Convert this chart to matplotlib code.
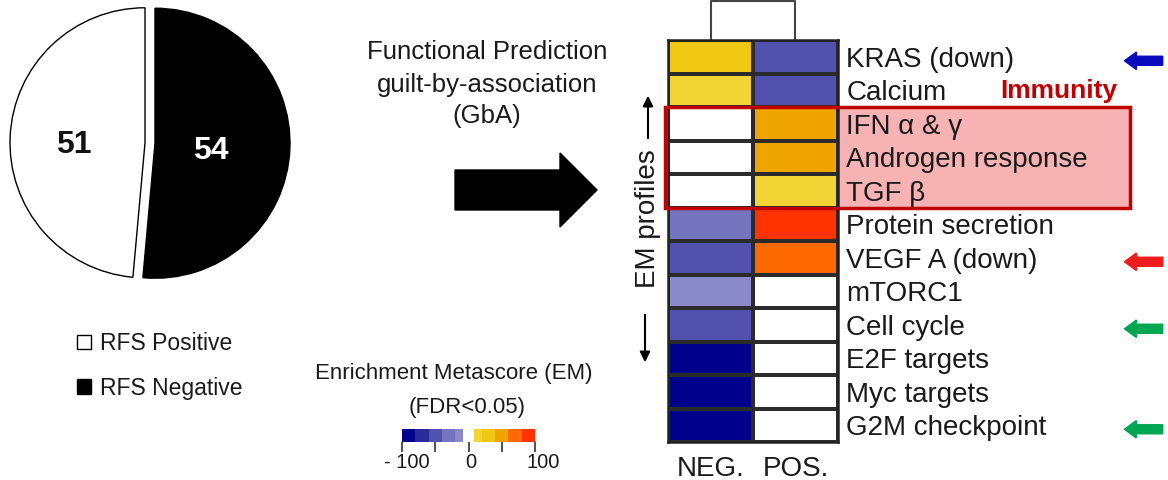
import matplotlib
matplotlib.use("Agg")
import matplotlib.pyplot as plt
import matplotlib.transforms as mtransforms
import numpy as np
from matplotlib.colors import ListedColormap, BoundaryNorm
from matplotlib.cm import ScalarMappable
from matplotlib.patches import Rectangle, FancyArrow

plt.rcParams["font.family"] = ["Liberation Sans", "DejaVu Sans"]
plt.rcParams["text.color"] = "#1a1a1a"
plt.rcParams["xtick.labelcolor"] = "#1a1a1a"
plt.rcParams["ytick.labelcolor"] = "#1a1a1a"

# Pie: recurrence-free survival groups
rfs_groups = ["RFS Positive", "RFS Negative"]
rfs_counts = [51, 54]
rfs_colors = ["white", "black"]

# Heatmap: enrichment metascore per pathway
pathways = ["KRAS (down)", "Calcium", "IFN α & γ", "Androgen response", "TGF β",
            "Protein secretion", "VEGF A (down)", "mTORC1", "Cell cycle",
            "E2F targets", "Myc targets", "G2M checkpoint"]
groups = ["NEG.", "POS."]
em_neg = [30, 15, 0, 0, 0, -30, -50, -15, -45, -95, -95, -95]
em_pos = [-50, -50, 50, 45, 15, 90, 70, 0, 0, 0, 0, 0]
immunity = ["IFN α & γ", "Androgen response", "TGF β"]
marked = {"KRAS (down)": "#0a0abf", "VEGF A (down)": "#ee1c1c",
          "Cell cycle": "#00a651", "G2M checkpoint": "#00a651"}

# Colour scale
em_bounds = [-100, -80, -60, -40, -20, -8, 8, 20, 40, 60, 80, 100]
em_colors = ["#00008a", "#2a2a9a", "#5252ae", "#7474bf", "#8a8acb", "white",
             "#f2d535", "#f0c814", "#f0a400", "#ff6a00", "#ff3300"]
cb_ticks = [-100, -50, 0, 50, 100]
cb_labels = ["- 100", "", "0", "", "100"]

W, H = 1168, 480
fig = plt.figure(figsize=(W / 100, H / 100), dpi=100)


def px_axes(x0, y0, x1, y1, **kw):
    return fig.add_axes([x0 / W, 1 - y1 / H, (x1 - x0) / W, (y1 - y0) / H], **kw)


# ---- pie ----
pie_ax = px_axes(0, -7, 300, 293)
wedges, _, autotexts = pie_ax.pie(
    rfs_counts, colors=rfs_colors, startangle=90, counterclock=True,
    explode=[0.037, 0.037],
    autopct=lambda p: f"{p * sum(rfs_counts) / 100:.0f}", pctdistance=0.47,
    wedgeprops=dict(edgecolor="black", linewidth=1.0),
    textprops=dict(fontsize=23, fontweight="bold"))
autotexts[0].set_color("#111111")
autotexts[1].set_color("white")
for t in autotexts:
    x, y = t.get_position()
    t.set_position((x - 0.06, y - 0.04))
pie_ax.set_xlim(-150 / 135, 150 / 135)
pie_ax.set_ylim(-150 / 135, 150 / 135)
pie_ax.set_aspect("equal")

fig.legend(wedges, rfs_groups, loc="upper left",
           bbox_to_anchor=(77 / W, 1 - 332 / H), frameon=False, fontsize=16.5,
           handlelength=0.62, handleheight=0.62, handletextpad=0.4,
           labelspacing=0.95, borderpad=0, borderaxespad=0)

# ---- heatmap ----
cmap = ListedColormap(em_colors)
norm = BoundaryNorm(em_bounds, cmap.N)
values = np.column_stack([em_neg, em_pos])
n = len(pathways)

hm = px_axes(668, 40, 838, 442, zorder=2)
hm.pcolormesh(values, cmap=cmap, norm=norm, edgecolors="#2b2b2b", linewidth=1.5)
hm.set_xlim(0, 2)
hm.set_ylim(n, 0)
hm.set_xticks([0.5, 1.5], groups)
hm.set_yticks(np.arange(n) + 0.5, pathways)
hm.yaxis.tick_right()
hm.tick_params(length=0, labelsize=20)
hm.tick_params(axis="y", pad=6)
hm.tick_params(axis="x", pad=10)
for s in hm.spines.values():
    s.set_linewidth(1.8)
    s.set_color("#222222")

# dendrogram bracket joining the two columns
hm.plot([0.5, 0.5, 1.5, 1.5], [0, -1.15, -1.15, 0], color="#444444", lw=1.5,
        clip_on=False)

# immunity highlight
i0 = pathways.index(immunity[0])
i1 = pathways.index(immunity[-1]) + 1
hm.add_patch(Rectangle((-0.04, i0), 5.47, i1 - i0, facecolor="#f7b3b3",
                       edgecolor="none", zorder=0.5, clip_on=False))
hm.add_patch(Rectangle((-0.04, i0), 5.47, i1 - i0, fill=False,
                       edgecolor="#c00000", lw=2.5, zorder=4, clip_on=False))

for name, c in marked.items():
    i = pathways.index(name)
    hm.add_patch(FancyArrow(5.82, i + 0.62, -0.45, 0, width=0.27, head_width=0.52,
                            head_length=0.14, length_includes_head=True,
                            color=c, clip_on=False))

# ---- colorbar ----
cax = px_axes(402, 429, 535, 442)
cb = fig.colorbar(ScalarMappable(norm=norm, cmap=cmap), cax=cax,
                  orientation="horizontal", spacing="proportional", ticks=cb_ticks)
cb.outline.set_visible(False)
cb.ax.set_xticklabels(cb_labels)
cb.ax.minorticks_off()
cb.ax.tick_params(length=7, width=1.5, color="#555555", labelsize=14.5, pad=1)
label_shift = [5, 0, 2, 0, 8]
for lab, dx in zip(cb.ax.get_xticklabels(), label_shift):
    lab.set_transform(lab.get_transform() +
                      mtransforms.ScaledTranslation(dx / 100, 0, fig.dpi_scale_trans))

# ---- overlay annotations (pixel coordinates) ----
fg = fig.add_axes([0, 0, 1, 1], zorder=5)
fg.set_xlim(0, W)
fg.set_ylim(H, 0)
fg.axis("off")
fg.patch.set_alpha(0)

fg.text(487, 52, "Functional Prediction", ha="center", va="center", fontsize=18.5)
fg.text(487, 85, "guilt-by-association", ha="center", va="center", fontsize=18.5)
fg.text(487, 116, "(GbA)", ha="center", va="center", fontsize=18.5)
fg.add_patch(FancyArrow(455, 190, 142, 0, width=40, head_width=74, head_length=37,
                        length_includes_head=True, color="black"))

fg.text(648, 219, "EM profiles", rotation=90, ha="center", va="center", fontsize=20)
fg.annotate("", xy=(648, 93), xytext=(648, 141),
            arrowprops=dict(arrowstyle="-|>", color="black", lw=1.5, mutation_scale=15))
fg.annotate("", xy=(645, 365), xytext=(645, 312),
            arrowprops=dict(arrowstyle="-|>", color="black", lw=1.5, mutation_scale=15))

fg.text(1117, 91, "Immunity", ha="right", va="center", color="#c00000",
        fontsize=19, fontweight="bold")

fg.text(454, 373, "Enrichment Metascore (EM)", ha="center", va="center", fontsize=16)
fg.text(467, 407, "(FDR<0.05)", ha="center", va="center", fontsize=16)

fig.savefig("out.png", dpi=100)
